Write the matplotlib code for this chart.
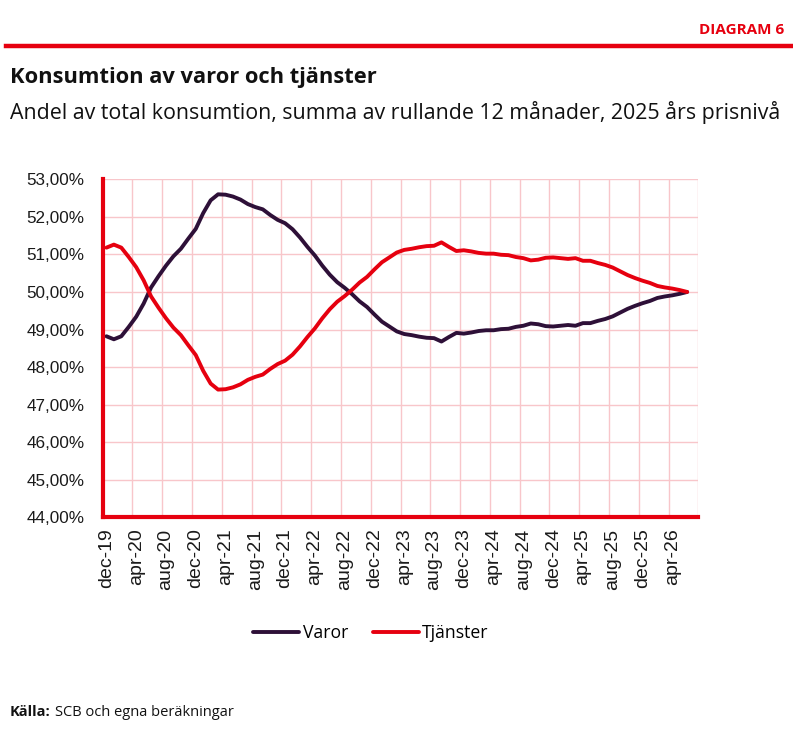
import matplotlib
matplotlib.use("Agg")
from matplotlib import pyplot as plt
from matplotlib.lines import Line2D
from matplotlib.ticker import FuncFormatter, FixedLocator

# monthly shares, dec-19 .. jun-26 (percent)
varor = [48.82, 48.74, 48.82, 49.07, 49.34, 49.69, 50.12, 50.42, 50.70, 50.95,
         51.15, 51.42, 51.68, 52.10, 52.44, 52.60, 52.59, 52.54, 52.46, 52.34,
         52.26, 52.20, 52.05, 51.92, 51.83, 51.67, 51.45, 51.20, 50.97, 50.70,
         50.46, 50.26, 50.11, 49.94, 49.75, 49.60, 49.40, 49.21, 49.08, 48.95,
         48.88, 48.85, 48.81, 48.78, 48.77, 48.68, 48.80, 48.91, 48.89, 48.92,
         48.96, 48.98, 48.98, 49.01, 49.02, 49.07, 49.10, 49.16, 49.14, 49.09,
         49.08, 49.10, 49.12, 49.10, 49.17, 49.17, 49.23, 49.28, 49.35, 49.45,
         49.55, 49.63, 49.70, 49.76, 49.84, 49.88, 49.91, 49.95, 50.00]
tjanster = [51.18, 51.26, 51.18, 50.93, 50.66, 50.31, 49.88, 49.58, 49.30, 49.05,
            48.85, 48.58, 48.32, 47.90, 47.56, 47.40, 47.41, 47.46, 47.54, 47.66,
            47.74, 47.80, 47.95, 48.08, 48.17, 48.33, 48.55, 48.80, 49.03, 49.30,
            49.54, 49.74, 49.89, 50.06, 50.25, 50.40, 50.60, 50.79, 50.92, 51.05,
            51.12, 51.15, 51.19, 51.22, 51.23, 51.32, 51.20, 51.09, 51.11, 51.08,
            51.04, 51.02, 51.02, 50.99, 50.98, 50.93, 50.90, 50.84, 50.86, 50.91,
            50.92, 50.90, 50.88, 50.90, 50.83, 50.83, 50.77, 50.72, 50.65, 50.55,
            50.45, 50.37, 50.30, 50.24, 50.16, 50.12, 50.09, 50.05, 50.00]
tick_labels = ['dec-19', 'apr-20', 'aug-20', 'dec-20', 'apr-21', 'aug-21', 'dec-21',
               'apr-22', 'aug-22', 'dec-22', 'apr-23', 'aug-23', 'dec-23', 'apr-24',
               'aug-24', 'dec-24', 'apr-25', 'aug-25', 'dec-25', 'apr-26']
n_categories = 80

RED = '#e6000f'
PURPLE = '#2e1038'
GRID = '#f8c6ca'
TXT = '#111111'
plt.rcParams['font.family'] = ['Open Sans', 'DejaVu Sans']
AXFONT = ['Liberation Sans', 'DejaVu Sans']

fig = plt.figure(figsize=(7.93, 7.30), dpi=100)
ax = fig.add_axes([0.1295, 0.2914, 0.8806 - 0.1295, 0.7544 - 0.2914])

x = list(range(len(varor)))
ax.plot(x, varor, color=PURPLE, lw=2.8, label='Varor', solid_capstyle='round')
ax.plot(x, tjanster, color=RED, lw=2.8, label='Tjänster', solid_capstyle='round')

ax.set_xlim(-0.5, n_categories - 0.5)
ax.set_ylim(44, 53)
ax.set_yticks(range(44, 54))
ax.yaxis.set_major_formatter(FuncFormatter(lambda v, p: f"{v:.2f}".replace('.', ',') + '%'))
ax.set_xticks([4 * i for i in range(len(tick_labels))])
ax.set_xticklabels(tick_labels, rotation=90)
ax.xaxis.set_minor_locator(FixedLocator([-0.5 + 4 * i for i in range(n_categories // 4 + 1)]))

ax.grid(False)
ax.grid(True, which='minor', axis='x', color=GRID, lw=1.0)
ax.grid(True, which='major', axis='y', color=GRID, lw=1.0)
ax.set_axisbelow(True)
ax.tick_params(which='both', length=0, labelcolor='#1a1a1a')
ax.tick_params(axis='y', pad=13, labelsize=12.3)
ax.tick_params(axis='x', pad=8, labelsize=14)
for lab in ax.get_xticklabels() + ax.get_yticklabels():
    lab.set_family(AXFONT)

for side in ['top', 'right']:
    ax.spines[side].set_visible(False)
for side in ['left', 'bottom']:
    ax.spines[side].set_color(RED)
    ax.spines[side].set_linewidth(3)
    ax.spines[side].set_zorder(3)


def fit_width(t, width_px):
    # scale a text so that it spans the given width in pixels
    fig.canvas.draw()
    w = t.get_window_extent().width
    t.set_fontsize(t.get_fontsize() * width_px / w)


# header
hdr = fig.text(784 / 793, 1 - 30 / 730, 'DIAGRAM 6', color=RED, fontsize=10.5,
               fontweight='bold', ha='right', va='center')
fig.add_artist(Line2D([6 / 793, 1.0], [1 - 46 / 730, 1 - 46 / 730], color=RED, lw=3.2))
title = fig.text(10 / 793, 1 - 78 / 730, 'Konsumtion av varor och tjänster', fontsize=14,
                 fontweight='bold', ha='left', va='center', color=TXT)
sub = fig.text(10 / 793, 1 - 112 / 730,
               'Andel av total konsumtion, summa av rullande 12 månader, 2025 års prisnivå',
               fontsize=13.2, ha='left', va='center', color=TXT)
fit_width(hdr, 86)
fit_width(title, 368)
fit_width(sub, 775)

fig.legend(loc='center', bbox_to_anchor=(0.468, 1 - 633 / 730), ncol=2, frameon=False,
           fontsize=12.7, handlelength=2.6, handletextpad=0.2, columnspacing=1.4)

src = fig.text(10 / 793, 1 - 712 / 730, 'Källa:', fontsize=10.5, fontweight='bold',
               ha='left', va='center', color=TXT)
fig.canvas.draw()
bb = src.get_window_extent()
fig.text((bb.x1 + 4) / 793, 1 - 712 / 730, 'SCB och egna beräkningar', fontsize=10.5,
         ha='left', va='center', color=TXT)

fig.savefig('out.png', dpi=100)
